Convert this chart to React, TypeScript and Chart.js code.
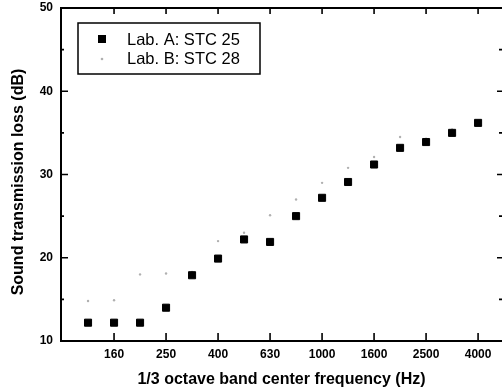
import React, { useEffect, useRef } from "react";
import { Chart, registerables } from "chart.js";

Chart.register(...registerables);

const BANDS = ["125", "160", "200", "250", "315", "400", "500", "630", "800", "1000", "1250", "1600", "2000", "2500", "3150", "4000"];
const LAB_A = [12.2, 12.2, 12.2, 14.0, 17.9, 19.9, 22.2, 21.9, 25.0, 27.2, 29.1, 31.2, 33.2, 33.9, 35.0, 36.2];
const LAB_B = [14.8, 14.9, 18.0, 18.1, 18.3, 22.0, 23.0, 25.1, 27.0, 29.0, 30.8, 32.1, 34.5, 34.3, 35.4, 36.4];
const SERIES_NAMES = ["Lab. A: STC 25", "Lab. B: STC 28"];
const Y_TICKS = [10, 15, 20, 25, 30, 35, 40, 45, 50];
const X_TITLE = "1/3 octave band center frequency (Hz)";
const Y_TITLE = "Sound transmission loss (dB)";

const FONT = "'Liberation Sans', Arial, Helvetica, sans-serif";

const framePlugin = {
  id: "frame",
  afterDraw(chart: any) {
    const { ctx, chartArea, scales } = chart;
    const { left, right, top, bottom } = chartArea;
    const x = scales.x;
    const y = scales.y;
    ctx.save();
    ctx.strokeStyle = "#000";
    ctx.lineWidth = 2;
    ctx.beginPath();
    ctx.moveTo(left - 1, top);
    ctx.lineTo(right, top);
    ctx.stroke();

    ctx.lineWidth = 1.6;
    Y_TICKS.forEach((v) => {
      const py = y.getPixelForValue(v);
      const major = v % 10 === 0;
      ctx.beginPath();
      ctx.moveTo(left, py);
      ctx.lineTo(left + (major ? 7 : 3), py);
      ctx.moveTo(right, py);
      ctx.lineTo(right - (major ? 5 : 3), py);
      ctx.stroke();
    });
    BANDS.forEach((_, i) => {
      if (i % 2 === 1) {
        const px = x.getPixelForValue(i);
        ctx.beginPath();
        ctx.moveTo(px, bottom);
        ctx.lineTo(px, bottom - 8);
        ctx.moveTo(px, top);
        ctx.lineTo(px, top + 6);
        ctx.stroke();
      }
    });

    // y title
    ctx.save();
    ctx.translate(19, 182);
    ctx.rotate(-Math.PI / 2);
    ctx.font = `bold 16px ${FONT}`;
    ctx.fillStyle = "#000";
    ctx.textAlign = "center";
    ctx.textBaseline = "middle";
    ctx.fillText(Y_TITLE, 0, 0);
    ctx.restore();

    // legend
    const lx = 78, ly = 23, lw = 182, lh = 51;
    ctx.lineWidth = 1.5;
    ctx.strokeRect(lx, ly, lw, lh);
    ctx.font = `16.5px ${FONT}`;
    ctx.fillStyle = "#000";
    ctx.textBaseline = "middle";
    ctx.textAlign = "left";
    const rows = [39, 58];
    chart.data.datasets.forEach((ds: any, i: number) => {
      const cy = rows[i];
      ctx.fillStyle = ds.backgroundColor;
      if (i === 0) {
        ctx.fillRect(98, cy - 4, 8, 8);
      } else {
        ctx.beginPath();
        ctx.arc(102, cy + 1, 1.3, 0, Math.PI * 2);
        ctx.fill();
      }
      ctx.fillStyle = "#000";
      ctx.fillText(ds.label, 127, cy + 1);
    });
    ctx.restore();
  },
};

export default function App() {
  const ref = useRef<HTMLCanvasElement | null>(null);
  useEffect(() => {
    document.body.style.margin = "0";
    const canvas = ref.current!;
    const chart = new Chart(canvas, {
      type: "scatter",
      data: {
        datasets: [
          {
            label: SERIES_NAMES[0],
            data: LAB_A.map((v, i) => ({ x: i, y: v })),
            pointStyle: "rect",
            pointRadius: 5,
            borderWidth: 1,
            backgroundColor: "#000",
            borderColor: "#000",
          },
          {
            label: SERIES_NAMES[1],
            data: LAB_B.map((v, i) => ({ x: i, y: v })),
            pointStyle: "circle",
            pointRadius: 1.2,
            borderWidth: 0,
            backgroundColor: "#b0b0b0",
            borderColor: "#b0b0b0",
          },
        ],
      },
      options: {
        responsive: false,
        animation: false,
        layout: { autoPadding: false, padding: { top: 8, right: 0, left: 0, bottom: 0 } },
        plugins: { legend: { display: false }, tooltip: { enabled: false } },
        scales: {
          x: {
            type: "linear",
            min: -1.04,
            max: 15.92,
            afterBuildTicks: (s: any) => {
              s.ticks = BANDS.map((_, i) => ({ value: i }));
            },
            afterFit: (s: any) => {
              s.height = 50;
              s.paddingLeft = 0;
              s.paddingRight = 0;
            },
            grid: { display: false, drawTicks: false },
            border: { display: true, color: "#000", width: 2 },
            ticks: {
              autoSkip: false,
              maxRotation: 0,
              padding: 6,
              color: "#000",
              font: { family: FONT, size: 12, weight: "bold" },
              callback: (v: any) => (Number(v) % 2 === 1 ? BANDS[Number(v)] : ""),
            },
            title: {
              display: true,
              text: X_TITLE,
              color: "#000",
              font: { family: FONT, size: 16, weight: "bold" },
              padding: { top: 0, bottom: 2 },
            },
          },
          y: {
            type: "linear",
            min: 10,
            max: 50,
            afterBuildTicks: (s: any) => {
              s.ticks = Y_TICKS.map((v) => ({ value: v }));
            },
            afterFit: (s: any) => {
              s.width = 61;
              s.paddingTop = 0;
              s.paddingBottom = 0;
            },
            grid: { display: false, drawTicks: false },
            border: { display: true, color: "#000", width: 2 },
            ticks: {
              padding: 8,
              color: "#000",
              font: { family: FONT, size: 12, weight: "bold" },
              callback: (v: any) => (Number(v) % 10 === 0 ? String(v) : ""),
            },
            title: { display: false },
          },
        },
      },
      plugins: [framePlugin],
    });
    return () => chart.destroy();
  }, []);
  return (
    <div style={{ width: 502, height: 391, background: "#fff", overflow: "hidden" }}>
      <canvas ref={ref} width={502} height={391} style={{ display: "block" }} />
    </div>
  );
}
